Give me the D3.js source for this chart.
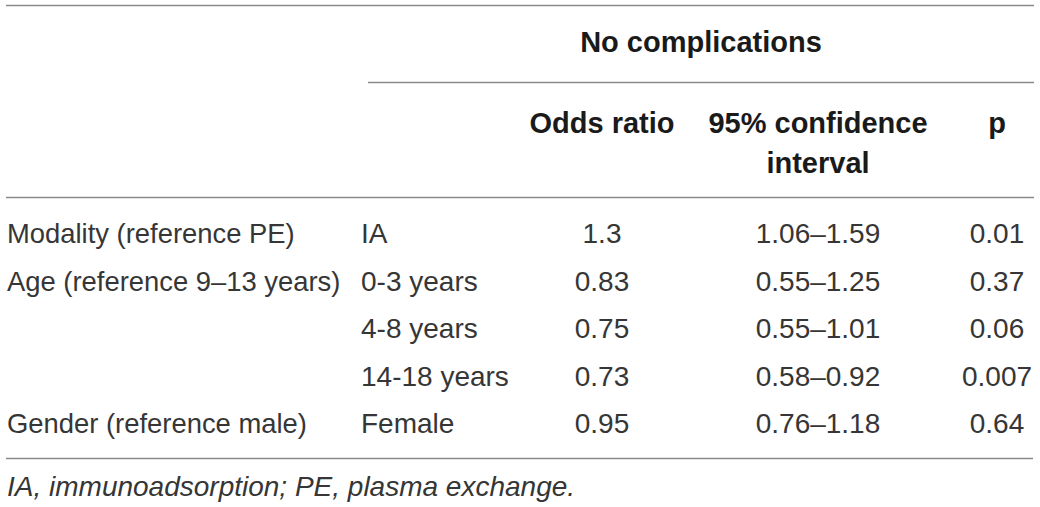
<!DOCTYPE html>
<html>
<head>
<meta charset="utf-8">
<script src="https://cdn.jsdelivr.net/npm/d3@7/dist/d3.min.js"></script>
<style>
  html, body { margin: 0; padding: 0; background: #fff; }
  svg { display: block; }
</style>
</head>
<body>
<svg id="chart" width="1040" height="507"></svg>
<script>
// ---- data ----
const groupHeader = "No complications";
const columnHeaders = [["Odds ratio"], ["95% confidence", "interval"], ["p"]];
const variables = ["Modality (reference PE)", "Age (reference 9–13 years)", "", "", "Gender (reference male)"];
const levels = ["IA", "0-3 years", "4-8 years", "14-18 years", "Female"];
const oddsRatios = ["1.3", "0.83", "0.75", "0.73", "0.95"];
const confIntervals = ["1.06–1.59", "0.55–1.25", "0.55–1.01", "0.58–0.92", "0.76–1.18"];
const pValues = ["0.01", "0.37", "0.06", "0.007", "0.64"];
const footnote = "IA, immunoadsorption; PE, plasma exchange.";

// ---- layout ----
const svg = d3.select("#chart");
const font = "'Liberation Sans', Arial, Helvetica, sans-serif";
const textColor = "#363636";
const headColor = "#1a1a1a";
const lineColor = "#8a8a8a";

const rowIdx = d3.range(levels.length);
const y = d3.scaleLinear().domain([0, levels.length - 1]).range([243, 433]);

const x = d3.scaleOrdinal()
  .domain(["var", "level", "or", "ci", "p"])
  .range([7, 361, 602, 818, 997]);

const rules = [
  { x1: 6, x2: 1034, y: 5.5 },
  { x1: 368, x2: 1034, y: 82.5 },
  { x1: 6, x2: 1034, y: 197.5 },
  { x1: 6, x2: 1033, y: 458.5 }
];
svg.selectAll("line.rule").data(rules).join("line")
  .attr("class", "rule")
  .attr("x1", d => d.x1).attr("x2", d => d.x2)
  .attr("y1", d => d.y).attr("y2", d => d.y)
  .attr("stroke", lineColor).attr("stroke-width", 1.3);

svg.append("text")
  .attr("x", 701).attr("y", 52)
  .attr("text-anchor", "middle")
  .attr("font-family", font).attr("font-weight", "bold")
  .attr("font-size", 29).attr("fill", headColor)
  .text(groupHeader);

const hdrCols = ["or", "ci", "p"];
columnHeaders.forEach((lines, i) => {
  const t = svg.append("text")
    .attr("text-anchor", "middle")
    .attr("font-family", font).attr("font-weight", "bold")
    .attr("font-size", 29).attr("fill", headColor);
  lines.forEach((ln, j) => {
    t.append("tspan").attr("x", x(hdrCols[i])).attr("y", 133 + j * 40).text(ln);
  });
});

function col(key, values, anchor, size) {
  svg.selectAll("text." + key).data(rowIdx).join("text")
    .attr("class", key)
    .attr("x", x(key))
    .attr("y", d => y(d))
    .attr("text-anchor", anchor)
    .attr("font-family", font)
    .attr("font-size", size)
    .attr("fill", textColor)
    .text(d => values[d]);
}
col("var", variables, "start", 27.4);
col("level", levels, "start", 28);
col("or", oddsRatios, "middle", 28);
col("ci", confIntervals, "middle", 28);
col("p", pValues, "middle", 28);

svg.append("text")
  .attr("x", 7).attr("y", 496)
  .attr("font-family", font).attr("font-style", "italic")
  .attr("font-size", 28).attr("fill", textColor)
  .text(footnote);
</script>
</body>
</html>
